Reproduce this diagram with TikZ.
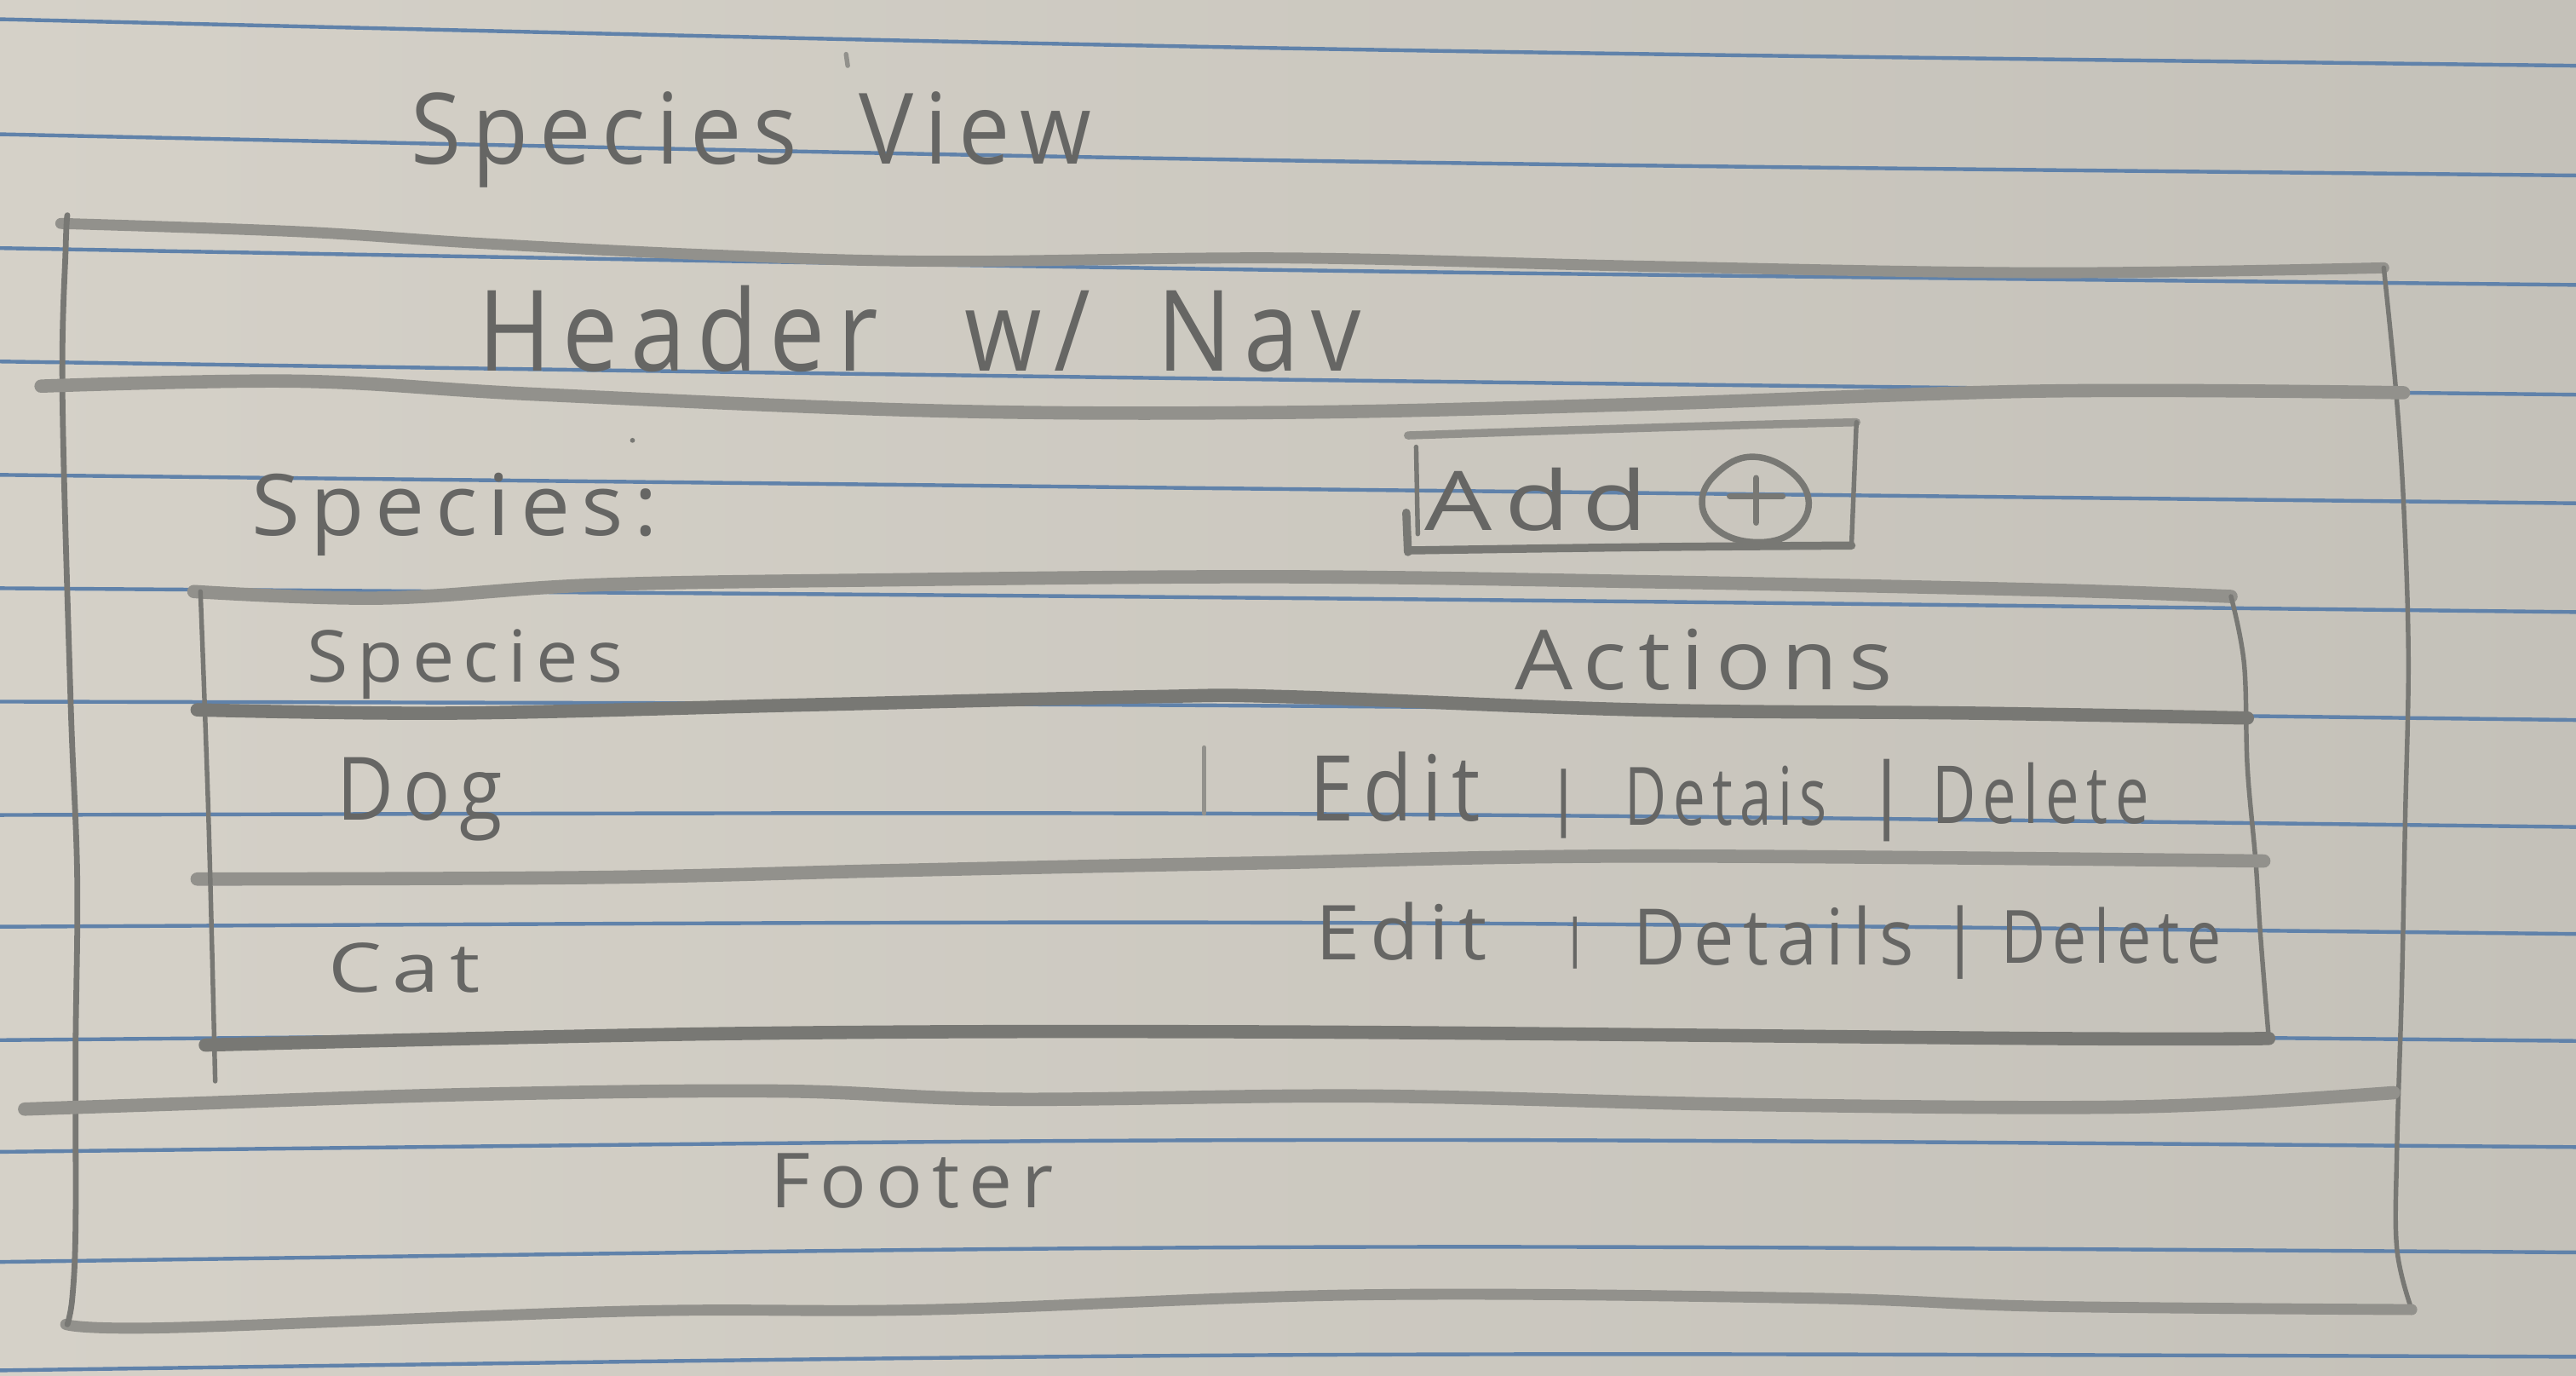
\documentclass[tikz,border=0pt]{standalone}
\usepackage{fontspec}
\usepackage{graphicx}
\newfontfamily\hand[LetterSpace=12]{Open Sans}
\definecolor{paperL}{RGB}{213,209,200}
\definecolor{paperR}{RGB}{196,193,185}
\definecolor{ruleblue}{RGB}{96,130,170}
\definecolor{pencilL}{RGB}{146,145,140}
\definecolor{pencilM}{RGB}{120,120,116}
\definecolor{pencilD}{RGB}{102,102,100}
% hand-lettered label scaled to a given width and height
\newcommand{\hw}[3]{\resizebox{#1}{#2}{\hand #3}}
\newcommand{\hwbar}[1]{\resizebox{!}{#1}{\hand |}}
\begin{document}
\begin{tikzpicture}[x=0.01cm,y=-0.01cm,
  ruled/.style={ruleblue, line width=0.65pt},
  thickpencil/.style={pencilL, line width=2.3pt, line cap=round, line join=round},
  medpencil/.style={pencilM, line width=1.4pt, line cap=round, line join=round},
  thinpencil/.style={pencilM, line width=0.8pt, line cap=round, line join=round},
  txt/.style={inner sep=0pt, outer sep=0pt, text=pencilD, anchor=base west},
  sep/.style={inner sep=0pt, outer sep=0pt, text=pencilD, anchor=base}]

% paper
\shade[left color=paperL, right color=paperR] (0,0) rectangle (1568,837);
\useasboundingbox (0,0) rectangle (1568,837);

% ruled lines of the notebook page
\foreach \l/\m/\r in {11.7/29.4/40.0, 81.7/97.7/106.8, 151/164.4/173.4,
  220/231.1/240.2, 289/297.8/306.3, 358/364/372.5, 427/429.6/438.2,
  496/495.3/503.3, 564/561.5/568.4, 633/627.7/633.5, 701/693.8/698.1,
  768/759/762.2, 834/824.6/825.7}
  \draw[ruled] (0,\l) .. controls (784,{(\m-0.125*(\l+\r))/0.75}) .. (1568,\r);

% page frame
\draw[thickpencil, line width=1.9pt] plot[smooth, tension=0.6] coordinates {(37,136) (182,141) (291,148) (430,155) (570,159) (783,157) (1000,162) (1244,166) (1451,163)};
\draw[thinpencil] plot[smooth, tension=0.6] coordinates {(1451,163) (1458,233) (1463,305) (1466,400) (1464,500) (1462,600) (1459,700) (1459,760) (1468,797)};
\draw[thickpencil, line width=1.9pt] plot[smooth, tension=0.6] coordinates {(1468,797) (1244,795) (1100,790) (830,788) (567,797) (382,798) (104,808) (40,806)};
\draw[thinpencil, line width=1pt] plot[smooth, tension=0.6] coordinates {(41,131) (40,150) (38,240) (43,427) (47,534) (46,640) (46,747) (44,790) (41,806)};

% header and footer separators
\draw[thickpencil] plot[smooth, tension=0.6] coordinates {(25,235) (182,232) (327,240) (570,250) (783,251) (1000,246) (1244,238) (1463,239)};
\draw[thickpencil] plot[smooth, tension=0.6] coordinates {(15,675) (104,672) (289,666) (474,664) (613,669) (830,667) (1050,672) (1244,674) (1348,672) (1457,665)};

% table frame and rows
\draw[thickpencil] plot[smooth, tension=0.6] coordinates {(118,360) (232,364) (362,356) (534,353) (778,351) (1000,354) (1244,359) (1358,363)};
\draw[thinpencil] plot[smooth, tension=0.6] coordinates {(1358,363) (1366,404) (1368,467) (1373,524) (1376,570) (1381,632)};
\draw[thickpencil, pencilM] plot[smooth, tension=0.6] coordinates {(120,432) (276,434) (490,429) (700,424) (783,424) (998,432) (1200,434) (1368,437)};
\draw[thickpencil] plot[smooth, tension=0.6] coordinates {(120,535) (362,534) (534,530) (674,527) (778,525) (998,521) (1378,524)};
\draw[thickpencil, pencilM] plot[smooth, tension=0.6] coordinates {(125,636) (447,629) (778,628) (1244,632) (1381,632)};
\draw[thinpencil] plot[smooth, tension=0.6] coordinates {(122,360) (127,500) (131,658)};
\draw[thinpencil, pencilL] (733,455) -- (733,495);

% add button
\draw[medpencil, pencilL] plot[smooth, tension=0.6] coordinates {(857,265) (950,262) (1050,259) (1130,257)};
\draw[thinpencil] (1130,257) -- (1127,332);
\draw[medpencil] plot[smooth, tension=0.6] coordinates {(1127,332) (1000,333) (857,335)};
\draw[thinpencil] (862,272) -- (863,325);
\draw[medpencil] (856,312) -- (857,336);
\draw[medpencil, line width=1.1pt] plot[smooth cycle, tension=0.7] coordinates {(1066,278) (1090,287) (1101,306) (1091,324) (1069,330) (1046,323) (1036,306) (1045,288)};
\draw[medpencil, line width=1.1pt] (1069,291) -- (1069,318) (1053,302) -- (1085,302);

% specks of graphite
\fill[pencilM] (385,268) circle (1.5);
\draw[thinpencil, pencilL] (515,33) -- (516,40);

% labels
\node[txt] (title) at (250,100) {\hw{4.14cm}{0.44cm}{Species\hspace{.3em} View}};
\node[txt] (header) at (291,226) {\hw{5.37cm}{0.52cm}{Header\hspace{.5em} w/\hspace{.3em} Nav}};
\node[txt] (listlabel) at (153,326) {\hw{2.47cm}{0.38cm}{Species:}};
\node[txt] (addlabel) at (867,323) {\hw{1.36cm}{0.38cm}{Add}};
\node[txt] (colspecies) at (187,415) {\hw{1.92cm}{0.32cm}{Species}};
\node[txt] (colactions) at (922,420) {\hw{2.30cm}{0.37cm}{Actions}};
\node[txt] (dog) at (205,499) {\hw{1.01cm}{0.38cm}{Dog}};
\node[txt] (cat) at (200,604) {\hw{0.92cm}{0.30cm}{Cat}};
\node[txt] (footer) at (469,735) {\hw{1.72cm}{0.33cm}{Footer}};

% row actions
\node[txt] (editA) at (797,499.5) {\hw{1.04cm}{0.42cm}{Edit}};
\node[sep] (barA1) at (952,500) {\hwbar{0.32cm}};
\node[txt] (detailsA) at (989,502) {\hw{1.23cm}{0.36cm}{Detais}};
\node[sep] (barA2) at (1148.5,500) {\hwbar{0.38cm}};
\node[txt] (deleteA) at (1176,501) {\hw{1.32cm}{0.37cm}{Delete}};

\node[txt] (editB) at (801,584) {\hw{1.04cm}{0.35cm}{Edit}};
\node[sep] (barB1) at (959,582) {\hwbar{0.24cm}};
\node[txt] (detailsB) at (994,587) {\hw{1.71cm}{0.36cm}{Details}};
\node[sep] (barB2) at (1193,585) {\hwbar{0.34cm}};
\node[txt] (deleteB) at (1218,586) {\hw{1.34cm}{0.34cm}{Delete}};
\end{tikzpicture}
\end{document}
